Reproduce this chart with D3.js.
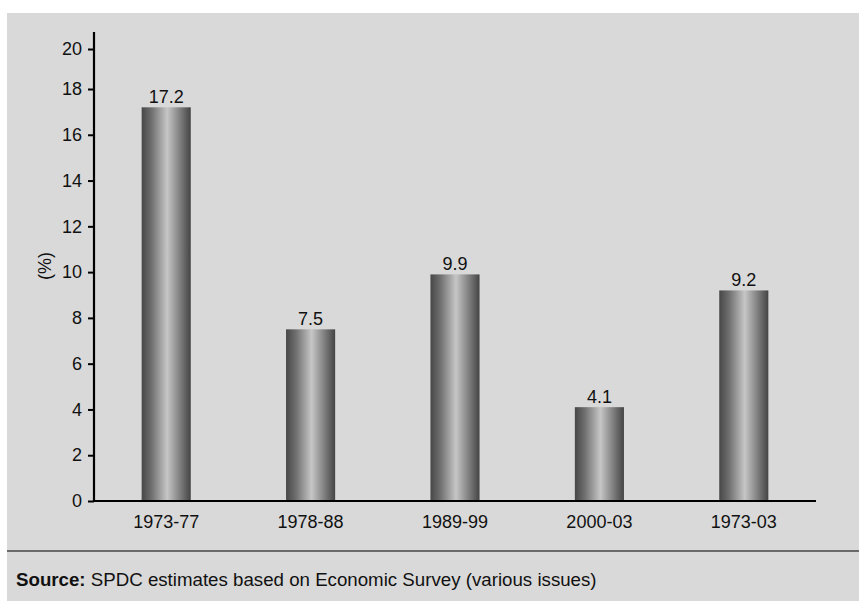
<!DOCTYPE html>
<html>
<head>
<meta charset="utf-8">
<script src="https://cdn.jsdelivr.net/npm/d3@7"></script>
<style>
html,body{margin:0;padding:0;background:#fff;}
svg{display:block;font-family:"Liberation Sans",Arial,sans-serif;}
</style>
</head>
<body>
<svg id="chart" width="859" height="601"></svg>
<script>
const categories = ["1973-77","1978-88","1989-99","2000-03","1973-03"];
const values = [17.2, 7.5, 9.9, 4.1, 9.2];
const valueLabels = ["17.2","7.5","9.9","4.1","9.2"];
const yTicks = [0,2,4,6,8,10,12,14,16,18,20];
const yLabel = "(%)";
const sourceBold = "Source:";
const sourceText = " SPDC estimates based on Economic Survey (various issues)";

(function(){
const svg = d3.select("#chart");
const W = 859, H = 601;
const FS = 18;

// panel
svg.append("rect").attr("x",7).attr("y",13).attr("width",W-7).attr("height",H-13).attr("fill","#d9d9d9");

const defs = svg.append("defs");
const grad = defs.append("linearGradient").attr("id","barGrad").attr("x1","0%").attr("x2","100%").attr("y1","0%").attr("y2","0%");
[["0%","#474747"],["20%","#6f6f6f"],["52%","#c6c6c6"],["80%","#7a7a7a"],["100%","#444444"]].forEach(([o,c])=>{
  grad.append("stop").attr("offset",o).attr("stop-color",c);
});

const mL = 94, mR = 816, mT = 32, mB = 501;
const x = d3.scaleBand().domain(categories).range([mL,mR]).paddingInner(0.66).paddingOuter(0.33);
const y = d3.scaleLinear().domain([0,18,20]).range([mB,89,49]);

// bars
svg.append("g").selectAll("rect").data(values).join("rect")
  .attr("x",(d,i)=>x(categories[i]))
  .attr("width",x.bandwidth())
  .attr("y",d=>y(d))
  .attr("height",d=>mB-y(d))
  .attr("fill","url(#barGrad)");

// value labels
svg.append("g").selectAll("text").data(values).join("text")
  .attr("x",(d,i)=>x(categories[i])+x.bandwidth()/2)
  .attr("y",d=>y(d)-4)
  .attr("text-anchor","middle")
  .attr("font-size",FS)
  .attr("fill","#111")
  .text((d,i)=>valueLabels[i]);

// y axis
const yAxis = svg.append("g").attr("transform",`translate(${mL},0)`)
  .call(d3.axisLeft(y).tickValues(yTicks).tickSize(6).tickPadding(6).tickFormat(d3.format("d")));
yAxis.select(".domain").remove();
yAxis.selectAll(".tick line").attr("stroke","#000").attr("stroke-width",2);
yAxis.selectAll(".tick text").attr("font-size",FS).attr("fill","#111").attr("font-family","Liberation Sans, Arial, sans-serif");
svg.append("line").attr("x1",mL).attr("x2",mL).attr("y1",mT).attr("y2",mB+1).attr("stroke","#000").attr("stroke-width",2.2);

// x axis
const xAxis = svg.append("g").attr("transform",`translate(0,${mB})`)
  .call(d3.axisBottom(x).tickSize(0).tickPadding(14));
xAxis.select(".domain").remove();
xAxis.selectAll(".tick text").attr("font-size",FS).attr("fill","#111").attr("font-family","Liberation Sans, Arial, sans-serif");
svg.append("line").attr("x1",mL-1).attr("x2",mR).attr("y1",mB).attr("y2",mB).attr("stroke","#000").attr("stroke-width",2.2);

// y label
svg.append("text").attr("transform",`translate(51,266) rotate(-90)`)
  .attr("text-anchor","middle").attr("font-size",FS).attr("fill","#111").text(yLabel);

// separator
svg.append("line").attr("x1",7).attr("x2",W).attr("y1",551).attr("y2",551).attr("stroke","#6a6a6a").attr("stroke-width",2);

// source
const src = svg.append("text").attr("x",16).attr("y",586).attr("font-size",18.7).attr("fill","#111");
src.append("tspan").attr("font-weight","bold").text(sourceBold);
src.append("tspan").text(sourceText);
})();
</script>
</body>
</html>
